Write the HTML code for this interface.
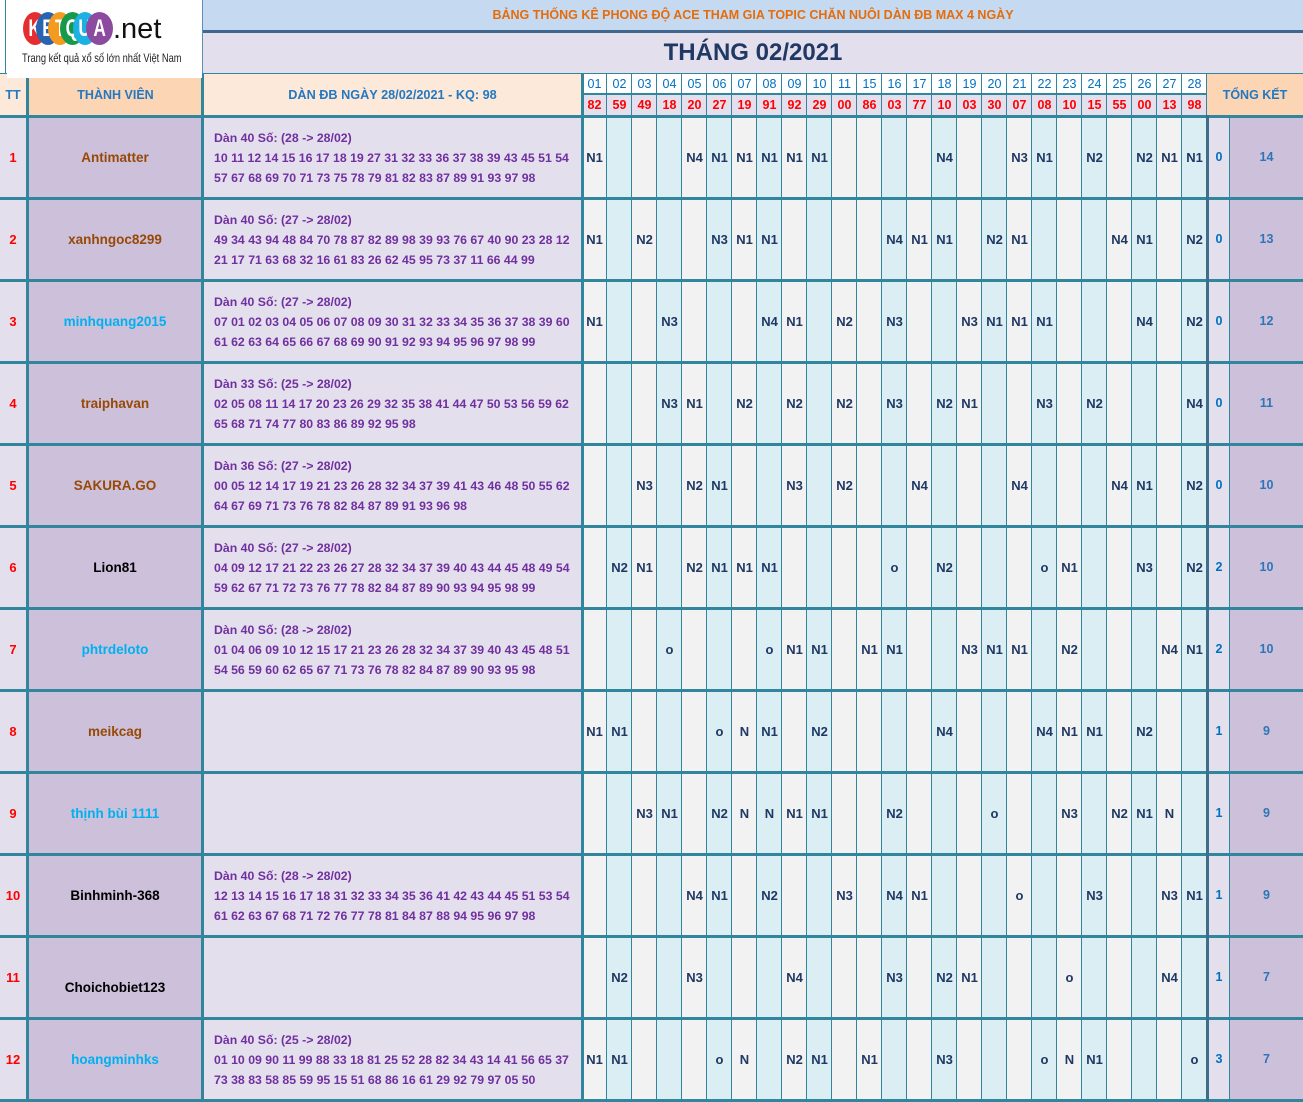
<!DOCTYPE html>
<html><head><meta charset="utf-8">
<style>
body{margin:0;width:1303px;height:1101px;position:relative;overflow:hidden;background:#fff;font-family:"Liberation Sans","DejaVu Sans",sans-serif;}
.a{position:absolute;}
.t{position:absolute;text-align:center;white-space:nowrap;}
.r{position:absolute;left:0;width:1303px;height:79px;}
.d{position:absolute;top:0;width:25px;line-height:79px;text-align:center;font-weight:bold;font-size:13px;color:#1f3864;}
.tt{position:absolute;left:0;top:0;width:26px;line-height:79px;text-align:center;font-weight:bold;font-size:13px;color:#ff0000;}
.nm{position:absolute;left:29px;top:0;width:172px;line-height:79px;text-align:center;font-weight:bold;font-size:13.5px;white-space:nowrap;}
.dn{position:absolute;left:214px;top:10px;line-height:20px;font-weight:bold;font-size:12.3px;color:#7030a0;white-space:nowrap;}
.z{position:absolute;left:1209px;top:0;width:20px;line-height:79px;text-align:center;font-weight:bold;font-size:12.5px;color:#0070c0;}
.s{position:absolute;left:1230px;top:0;width:73px;line-height:79px;text-align:center;font-weight:bold;font-size:12.5px;color:#2e75b6;}
.br{color:#984807}.lb{color:#00b0f0}.bk{color:#000}
.g{background:#f2f2f2}.b{background:#daeef3}
.k0{left:582px}.k1{left:607px}.k2{left:632px}.k3{left:657px}.k4{left:682px}.k5{left:707px}.k6{left:732px}.k7{left:757px}.k8{left:782px}.k9{left:807px}.k10{left:832px}.k11{left:857px}.k12{left:882px}.k13{left:907px}.k14{left:932px}.k15{left:957px}.k16{left:982px}.k17{left:1007px}.k18{left:1032px}.k19{left:1057px}.k20{left:1082px}.k21{left:1107px}.k22{left:1132px}.k23{left:1157px}.k24{left:1182px}
.cs{position:absolute;top:118px;width:25px;height:983px;}
.hn{position:absolute;top:74px;width:25px;line-height:20px;text-align:center;font-size:12.5px;color:#0070c0;}
.hr{position:absolute;top:95px;width:25px;line-height:21px;text-align:center;font-size:12.5px;font-weight:bold;color:#ff0000;}
.vl{position:absolute;top:73px;width:1px;height:1028px;background:#31859c;}
.hl{position:absolute;left:0;width:1303px;height:3px;background:#31859c;}
.lc{position:absolute;top:12px;width:24px;height:33px;border-radius:50%;color:#fff;text-align:center;}
.lc span{display:inline-block;font:bold 24px/33px 'Liberation Sans',sans-serif;transform:scaleX(0.72);}
</style></head><body>

<!-- body column strips -->
<div class="a" style="left:0;top:118px;width:26px;height:983px;background:#e4dfec"></div>
<div class="a" style="left:26px;top:118px;width:176px;height:983px;background:#ccc0da"></div>
<div class="a" style="left:202px;top:118px;width:380px;height:983px;background:#e4dfec"></div>
<div class="cs g k0"></div><div class="cs b k1"></div><div class="cs g k2"></div><div class="cs b k3"></div><div class="cs g k4"></div><div class="cs b k5"></div><div class="cs g k6"></div><div class="cs b k7"></div><div class="cs g k8"></div><div class="cs b k9"></div><div class="cs g k10"></div><div class="cs g k11"></div><div class="cs b k12"></div><div class="cs g k13"></div><div class="cs b k14"></div><div class="cs g k15"></div><div class="cs b k16"></div><div class="cs g k17"></div><div class="cs b k18"></div><div class="cs g k19"></div><div class="cs b k20"></div><div class="cs g k21"></div><div class="cs b k22"></div><div class="cs g k23"></div><div class="cs b k24"></div>
<div class="a" style="left:1207px;top:118px;width:23px;height:983px;background:#e4dfec"></div>
<div class="a" style="left:1230px;top:118px;width:73px;height:983px;background:#ccc0da"></div>

<!-- title area -->
<div class="a" style="left:203px;top:0;width:1100px;height:30px;background:#c5d9f1"></div>
<div class="a" style="left:203px;top:30px;width:1100px;height:3px;background:#41678f"></div>
<div class="a" style="left:203px;top:33px;width:1100px;height:40px;background:#e4dfec"></div>
<div class="a" style="left:202px;top:0;width:1px;height:74px;background:#5b8fb5"></div>
<div class="t" style="left:203px;top:0;width:1100px;line-height:30px;font-size:12.5px;font-weight:bold;color:#e46c0a">BẢNG THỐNG KÊ PHONG ĐỘ ACE THAM GIA TOPIC CHĂN NUÔI DÀN ĐB MAX 4 NGÀY</div>
<div class="t" style="left:203px;top:33px;width:1100px;line-height:40px;font-size:24px;font-weight:bold;color:#1f3864">THÁNG 02/2021</div>

<!-- header cells -->
<div class="a" style="left:0;top:74px;width:26px;height:42px;background:#fde9d9"></div>
<div class="a" style="left:26px;top:74px;width:176px;height:42px;background:#fcd5b4"></div>
<div class="a" style="left:202px;top:74px;width:380px;height:42px;background:#fde9d9"></div>
<div class="a" style="left:582px;top:74px;width:625px;height:20px;background:#fff"></div>
<div class="a" style="left:582px;top:95px;width:625px;height:21px;background:#e4dfec"></div>
<div class="a" style="left:1207px;top:74px;width:96px;height:42px;background:#fcd5b4"></div>
<div class="a" style="left:0;top:73px;width:1303px;height:1px;background:#31859c"></div>
<div class="a" style="left:582px;top:93px;width:625px;height:2px;background:#31859c"></div>

<div class="t" style="left:0;top:74px;width:26px;line-height:42px;font-size:12.5px;font-weight:bold;color:#2478c0">TT</div>
<div class="t" style="left:29px;top:74px;width:173px;line-height:42px;font-size:12.5px;font-weight:bold;color:#2478c0">THÀNH VIÊN</div>
<div class="t" style="left:204px;top:74px;width:377px;line-height:42px;font-size:12.7px;font-weight:bold;color:#2478c0">DÀN ĐB NGÀY 28/02/2021 - KQ: 98</div>
<div class="t" style="left:1207px;top:74px;width:96px;line-height:42px;font-size:12.5px;font-weight:bold;color:#2478c0">TỔNG KẾT</div>

<div class="hn k0">01</div><div class="hn k1">02</div><div class="hn k2">03</div><div class="hn k3">04</div><div class="hn k4">05</div><div class="hn k5">06</div><div class="hn k6">07</div><div class="hn k7">08</div><div class="hn k8">09</div><div class="hn k9">10</div><div class="hn k10">11</div><div class="hn k11">15</div><div class="hn k12">16</div><div class="hn k13">17</div><div class="hn k14">18</div><div class="hn k15">19</div><div class="hn k16">20</div><div class="hn k17">21</div><div class="hn k18">22</div><div class="hn k19">23</div><div class="hn k20">24</div><div class="hn k21">25</div><div class="hn k22">26</div><div class="hn k23">27</div><div class="hn k24">28</div>
<div class="hr k0">82</div><div class="hr k1">59</div><div class="hr k2">49</div><div class="hr k3">18</div><div class="hr k4">20</div><div class="hr k5">27</div><div class="hr k6">19</div><div class="hr k7">91</div><div class="hr k8">92</div><div class="hr k9">29</div><div class="hr k10">00</div><div class="hr k11">86</div><div class="hr k12">03</div><div class="hr k13">77</div><div class="hr k14">10</div><div class="hr k15">03</div><div class="hr k16">30</div><div class="hr k17">07</div><div class="hr k18">08</div><div class="hr k19">10</div><div class="hr k20">15</div><div class="hr k21">55</div><div class="hr k22">00</div><div class="hr k23">13</div><div class="hr k24">98</div>

<!-- horizontal lines -->
<div class="hl" style="top:115px"></div>
<div class="hl" style="top:197px"></div>
<div class="hl" style="top:279px"></div>
<div class="hl" style="top:361px"></div>
<div class="hl" style="top:443px"></div>
<div class="hl" style="top:525px"></div>
<div class="hl" style="top:607px"></div>
<div class="hl" style="top:689px"></div>
<div class="hl" style="top:771px"></div>
<div class="hl" style="top:853px"></div>
<div class="hl" style="top:935px"></div>
<div class="hl" style="top:1017px"></div>
<div class="hl" style="top:1099px"></div>

<!-- vertical lines -->
<div class="a" style="left:26px;top:74px;width:3px;height:1027px;background:#31859c"></div>
<div class="a" style="left:201px;top:74px;width:3px;height:1027px;background:#31859c"></div>
<div class="a" style="left:581px;top:73px;width:3px;height:1028px;background:#31859c"></div>
<div class="vl" style="left:606px"></div><div class="vl" style="left:631px"></div><div class="vl" style="left:656px"></div><div class="vl" style="left:681px"></div><div class="vl" style="left:706px"></div><div class="vl" style="left:731px"></div><div class="vl" style="left:756px"></div><div class="vl" style="left:781px"></div><div class="vl" style="left:806px"></div><div class="vl" style="left:831px"></div><div class="vl" style="left:856px"></div><div class="vl" style="left:881px"></div><div class="vl" style="left:906px"></div><div class="vl" style="left:931px"></div><div class="vl" style="left:956px"></div><div class="vl" style="left:981px"></div><div class="vl" style="left:1006px"></div><div class="vl" style="left:1031px"></div><div class="vl" style="left:1056px"></div><div class="vl" style="left:1081px"></div><div class="vl" style="left:1106px"></div><div class="vl" style="left:1131px"></div><div class="vl" style="left:1156px"></div><div class="vl" style="left:1181px"></div>
<div class="a" style="left:1206px;top:73px;width:1px;height:43px;background:#31859c"></div>
<div class="a" style="left:1206px;top:115px;width:3px;height:986px;background:#3d6f8c"></div>
<div class="a" style="left:1229px;top:116px;width:1px;height:985px;background:#31859c"></div>

<!-- logo -->
<div class="a" style="left:5px;top:0;width:1px;height:74px;background:#31859c"></div>
<div class="a" style="left:7px;top:0;width:195px;height:78px;background:#fff"></div>
<div class="lc" style="left:23px;background:#e52d2f"><span>K</span></div>
<div class="lc" style="left:36px;background:#2a64b0"><span>E</span></div>
<div class="lc" style="left:48px;background:#f49a1f"><span>T</span></div>
<div class="lc" style="left:60px;width:25px;background:#17994a"><span>Q</span></div>
<div class="lc" style="left:73px;background:#1bb1e3"><span>U</span></div>
<div class="lc" style="left:86px;width:27px;background:#8d4b9f"><span>A</span></div>
<div class="a" style="left:113px;top:12px;font-size:29px;line-height:34px;color:#111;white-space:nowrap">.net</div>
<div class="a" style="left:22px;top:51px;font-size:12px;line-height:15px;color:#222;white-space:nowrap;transform:scaleX(0.777);transform-origin:0 0">Trang kết quả xổ số lớn nhất Việt Nam</div>

<!-- rows -->
<div class="r" style="top:118px">
<div class="tt">1</div><div class="nm br">Antimatter</div>
<div class="dn">Dàn 40 Số: (28 -&gt; 28/02)<br>10 11 12 14 15 16 17 18 19 27 31 32 33 36 37 38 39 43 45 51 54<br>57 67 68 69 70 71 73 75 78 79 81 82 83 87 89 91 93 97 98</div>
<div class="d k0">N1</div><div class="d k4">N4</div><div class="d k5">N1</div><div class="d k6">N1</div><div class="d k7">N1</div><div class="d k8">N1</div><div class="d k9">N1</div><div class="d k14">N4</div><div class="d k17">N3</div><div class="d k18">N1</div><div class="d k20">N2</div><div class="d k22">N2</div><div class="d k23">N1</div><div class="d k24">N1</div>
<div class="z">0</div><div class="s">14</div>
</div>

<div class="r" style="top:200px">
<div class="tt">2</div><div class="nm br">xanhngoc8299</div>
<div class="dn">Dàn 40 Số: (27 -&gt; 28/02)<br>49 34 43 94 48 84 70 78 87 82 89 98 39 93 76 67 40 90 23 28 12<br>21 17 71 63 68 32 16 61 83 26 62 45 95 73 37 11 66 44 99</div>
<div class="d k0">N1</div><div class="d k2">N2</div><div class="d k5">N3</div><div class="d k6">N1</div><div class="d k7">N1</div><div class="d k12">N4</div><div class="d k13">N1</div><div class="d k14">N1</div><div class="d k16">N2</div><div class="d k17">N1</div><div class="d k21">N4</div><div class="d k22">N1</div><div class="d k24">N2</div>
<div class="z">0</div><div class="s">13</div>
</div>

<div class="r" style="top:282px">
<div class="tt">3</div><div class="nm lb">minhquang2015</div>
<div class="dn">Dàn 40 Số: (27 -&gt; 28/02)<br>07 01 02 03 04 05 06 07 08 09 30 31 32 33 34 35 36 37 38 39 60<br>61 62 63 64 65 66 67 68 69 90 91 92 93 94 95 96 97 98 99</div>
<div class="d k0">N1</div><div class="d k3">N3</div><div class="d k7">N4</div><div class="d k8">N1</div><div class="d k10">N2</div><div class="d k12">N3</div><div class="d k15">N3</div><div class="d k16">N1</div><div class="d k17">N1</div><div class="d k18">N1</div><div class="d k22">N4</div><div class="d k24">N2</div>
<div class="z">0</div><div class="s">12</div>
</div>

<div class="r" style="top:364px">
<div class="tt">4</div><div class="nm br">traiphavan</div>
<div class="dn">Dàn 33 Số: (25 -&gt; 28/02)<br>02 05 08 11 14 17 20 23 26 29 32 35 38 41 44 47 50 53 56 59 62<br>65 68 71 74 77 80 83 86 89 92 95 98</div>
<div class="d k3">N3</div><div class="d k4">N1</div><div class="d k6">N2</div><div class="d k8">N2</div><div class="d k10">N2</div><div class="d k12">N3</div><div class="d k14">N2</div><div class="d k15">N1</div><div class="d k18">N3</div><div class="d k20">N2</div><div class="d k24">N4</div>
<div class="z">0</div><div class="s">11</div>
</div>

<div class="r" style="top:446px">
<div class="tt">5</div><div class="nm br">SAKURA.GO</div>
<div class="dn">Dàn 36 Số: (27 -&gt; 28/02)<br>00 05 12 14 17 19 21 23 26 28 32 34 37 39 41 43 46 48 50 55 62<br>64 67 69 71 73 76 78 82 84 87 89 91 93 96 98</div>
<div class="d k2">N3</div><div class="d k4">N2</div><div class="d k5">N1</div><div class="d k8">N3</div><div class="d k10">N2</div><div class="d k13">N4</div><div class="d k17">N4</div><div class="d k21">N4</div><div class="d k22">N1</div><div class="d k24">N2</div>
<div class="z">0</div><div class="s">10</div>
</div>

<div class="r" style="top:528px">
<div class="tt">6</div><div class="nm bk">Lion81</div>
<div class="dn">Dàn 40 Số: (27 -&gt; 28/02)<br>04 09 12 17 21 22 23 26 27 28 32 34 37 39 40 43 44 45 48 49 54<br>59 62 67 71 72 73 76 77 78 82 84 87 89 90 93 94 95 98 99</div>
<div class="d k1">N2</div><div class="d k2">N1</div><div class="d k4">N2</div><div class="d k5">N1</div><div class="d k6">N1</div><div class="d k7">N1</div><div class="d k12">o</div><div class="d k14">N2</div><div class="d k18">o</div><div class="d k19">N1</div><div class="d k22">N3</div><div class="d k24">N2</div>
<div class="z">2</div><div class="s">10</div>
</div>

<div class="r" style="top:610px">
<div class="tt">7</div><div class="nm lb">phtrdeloto</div>
<div class="dn">Dàn 40 Số: (28 -&gt; 28/02)<br>01 04 06 09 10 12 15 17 21 23 26 28 32 34 37 39 40 43 45 48 51<br>54 56 59 60 62 65 67 71 73 76 78 82 84 87 89 90 93 95 98</div>
<div class="d k3">o</div><div class="d k7">o</div><div class="d k8">N1</div><div class="d k9">N1</div><div class="d k11">N1</div><div class="d k12">N1</div><div class="d k15">N3</div><div class="d k16">N1</div><div class="d k17">N1</div><div class="d k19">N2</div><div class="d k23">N4</div><div class="d k24">N1</div>
<div class="z">2</div><div class="s">10</div>
</div>

<div class="r" style="top:692px">
<div class="tt">8</div><div class="nm br">meikcag</div>
<div class="d k0">N1</div><div class="d k1">N1</div><div class="d k5">o</div><div class="d k6">N</div><div class="d k7">N1</div><div class="d k9">N2</div><div class="d k14">N4</div><div class="d k18">N4</div><div class="d k19">N1</div><div class="d k20">N1</div><div class="d k22">N2</div>
<div class="z">1</div><div class="s">9</div>
</div>

<div class="r" style="top:774px">
<div class="tt">9</div><div class="nm lb">thịnh bùi 1111</div>
<div class="d k2">N3</div><div class="d k3">N1</div><div class="d k5">N2</div><div class="d k6">N</div><div class="d k7">N</div><div class="d k8">N1</div><div class="d k9">N1</div><div class="d k12">N2</div><div class="d k16">o</div><div class="d k19">N3</div><div class="d k21">N2</div><div class="d k22">N1</div><div class="d k23">N</div>
<div class="z">1</div><div class="s">9</div>
</div>

<div class="r" style="top:856px">
<div class="tt">10</div><div class="nm bk">Binhminh-368</div>
<div class="dn">Dàn 40 Số: (28 -&gt; 28/02)<br>12 13 14 15 16 17 18 31 32 33 34 35 36 41 42 43 44 45 51 53 54<br>61 62 63 67 68 71 72 76 77 78 81 84 87 88 94 95 96 97 98</div>
<div class="d k4">N4</div><div class="d k5">N1</div><div class="d k7">N2</div><div class="d k10">N3</div><div class="d k12">N4</div><div class="d k13">N1</div><div class="d k17">o</div><div class="d k20">N3</div><div class="d k23">N3</div><div class="d k24">N1</div>
<div class="z">1</div><div class="s">9</div>
</div>

<div class="r" style="top:938px">
<div class="tt">11</div><div class="nm bk" style="top:10px">Choichobiet123</div>
<div class="d k1">N2</div><div class="d k4">N3</div><div class="d k8">N4</div><div class="d k12">N3</div><div class="d k14">N2</div><div class="d k15">N1</div><div class="d k19">o</div><div class="d k23">N4</div>
<div class="z">1</div><div class="s">7</div>
</div>

<div class="r" style="top:1020px">
<div class="tt">12</div><div class="nm lb">hoangminhks</div>
<div class="dn">Dàn 40 Số: (25 -&gt; 28/02)<br>01 10 09 90 11 99 88 33 18 81 25 52 28 82 34 43 14 41 56 65 37<br>73 38 83 58 85 59 95 15 51 68 86 16 61 29 92 79 97 05 50</div>
<div class="d k0">N1</div><div class="d k1">N1</div><div class="d k5">o</div><div class="d k6">N</div><div class="d k8">N2</div><div class="d k9">N1</div><div class="d k11">N1</div><div class="d k14">N3</div><div class="d k18">o</div><div class="d k19">N</div><div class="d k20">N1</div><div class="d k24">o</div>
<div class="z">3</div><div class="s">7</div>
</div>

</body></html>
